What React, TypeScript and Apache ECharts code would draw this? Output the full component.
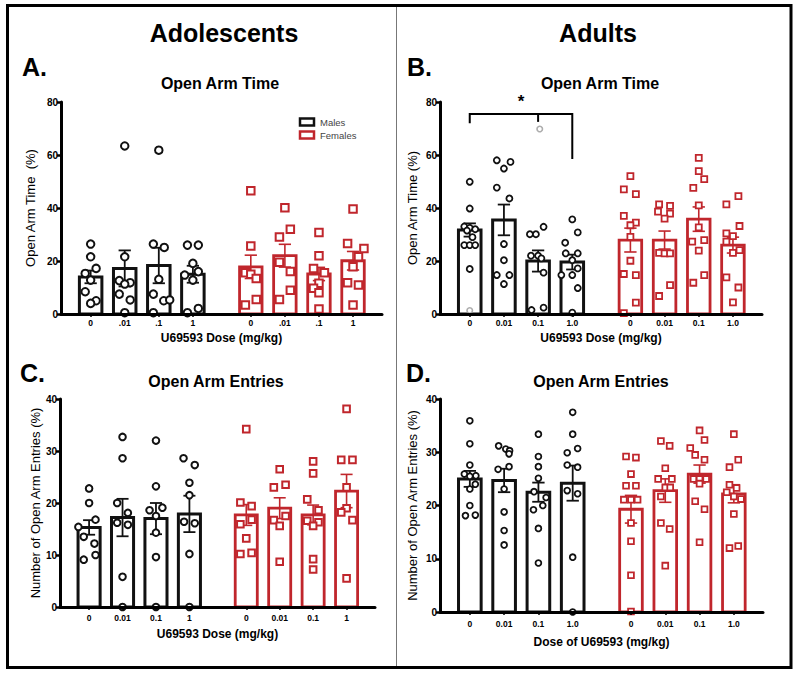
import React, { useEffect, useRef } from 'react';
import * as echarts from 'echarts';

// ---------- data ----------
const MALE_X = [0, 1, 2, 3];
const FEMALE_X = [4.7, 5.7, 6.7, 7.7];
const JIT = 0.16;

const LABELS_A = ['0', '.01', '.1', '1'];
const LABELS_B = ['0', '0.01', '0.1', '1.0'];
const LABELS_C = ['0', '0.01', '0.1', '1'];
const LABELS_D = ['0', '0.01', '0.1', '1.0'];

// Panel A – adolescents, open arm time (%)
const A_M_MEAN = [14.0, 17.2, 18.3, 15.0];
const A_M_SEM = [2.4, 6.8, 6.7, 3.2];
const A_F_MEAN = [17.8, 22.0, 15.1, 20.1];
const A_F_SEM = [4.4, 4.3, 2.5, 3.5];
const A_M_VALS = [
  [26.4, 21.6, 17.2, 15.3, 12.8, 8.4, 5.0, 4.0],
  [63.4, 21.6, 12.6, 11.8, 11.3, 7.5, 5.3, 0.5],
  [61.8, 26.4, 25.1, 13.1, 7.5, 5.0, 5.3, 0.5],
  [26.0, 26.0, 19.1, 16.0, 14.7, 12.8, 2.1, 0.5],
];
const A_M_JIT = [
  [0, 0, 1, -1, 0, -1, 1, 0],
  [0, 0, -1, 1, 0, -1, 1, 0],
  [0, -1, 1, 0, -1, 0.9, 2, -1],
  [-1, 1, 0, 1, -1.5, 0, 1, -1],
];
const A_F_VALS = [
  [46.5, 25.7, 15.6, 15.0, 13.4, 5.5, 3.4],
  [40.1, 32.0, 29.1, 19.5, 16.0, 9.0, 5.5],
  [30.8, 22.0, 17.2, 15.6, 11.6, 9.7, 8.0, 1.9],
  [39.6, 26.6, 24.7, 21.6, 17.8, 11.8, 10.9, 3.4],
];
const A_F_JIT = [
  [0, 0, -1, 0, 1, 1, -1],
  [0, 1, -1, -1, 1, 1, -1],
  [0, 0, -1, 1, 0, -1, 0, 0],
  [0, -1, 2, 1, 0, -1, 1, 0],
];

// Panel B – adults, open arm time (%)
const B_M_MEAN = [31.7, 35.5, 20.0, 19.6];
const B_M_SEM = [2.5, 5.8, 4.0, 2.8];
const B_F_MEAN = [27.9, 27.9, 35.8, 26.0];
const B_F_SEM = [4.5, 3.4, 4.6, 3.0];
const B_M_VALS = [
  [49.9, 39.8, 33.0, 32.5, 32.0, 31.5, 29.0, 26.0, 26.0, 26.0, 17.0],
  [58.0, 57.4, 54.9, 47.7, 43.6, 26.4, 20.3, 14.7, 14.7, 11.3],
  [32.9, 30.1, 30.1, 22.0, 22.0, 21.0, 15.6, 2.4, 1.5],
  [35.7, 30.8, 26.9, 22.9, 22.9, 20.3, 17.2, 14.7, 14.7, 9.8, 0.5],
];
const B_M_JIT = [
  [0, 0, -1, 0, 1, -0.5, 0.5, -1, 0, 1, 0],
  [-1.3, 1.2, 0, -1.3, 1, 0, 0, -1.3, 1, 0],
  [1, -1.5, -0.4, -1.3, 0, 0.6, 1, 1, -1.2],
  [0, 1, -1.3, -1.2, 1, 0, 1, -2, 0, 1, 0],
];
const B_F_VALS = [
  [52.0, 47.0, 45.2, 37.0, 34.5, 33.5, 29.1, 20.1, 15.1, 14.7, 4.3, 0.3],
  [41.4, 40.8, 38.6, 37.9, 36.0, 23.1, 22.9, 22.9, 10.9, 6.8],
  [58.9, 53.9, 50.9, 47.6, 41.0, 32.7, 27.9, 27.3, 23.9, 14.7, 11.8],
  [44.5, 41.4, 33.2, 30.4, 29.4, 27.3, 24.1, 23.1, 13.8, 10.0, 4.4],
];
const B_F_JIT = [
  [0, -1.2, 1, -1.2, 1, 0, 0, 0, -1.2, 1, 1, -1.2],
  [-1, 1, -1.2, 1, 0, -1, 0, 1, 1, -1],
  [0, 0, 1, -1, 0, 0, 1, -1.2, 0, 1, -1],
  [1, -1.2, 1.2, -1.2, 0, -1.2, 1.2, 0, -1.2, 1, 0],
];
// excluded (grey) points in B
const B_GRAY_DOSE = [0, 2];
const B_GRAY_JIT = [0, 0.3];
const B_GRAY_VALS = [1.3, 69.8];
// significance bracket in B: x = dose positions (left, middle, right)
const BRACKET_X = [0, 2, 3];
const BRACKET_Y = [75.5, 72.0, 72.5, 58.5]; // top line, left leg end, middle tick end, right leg end

// Panel C – adolescents, open arm entries (%)
const C_M_MEAN = [15.3, 17.2, 17.0, 17.9];
const C_M_SEM = [1.4, 3.6, 3.0, 3.5];
const C_F_MEAN = [17.7, 19.0, 17.7, 22.3];
const C_F_SEM = [2.0, 2.0, 1.9, 3.2];
const C_M_VALS = [
  [22.8, 20.0, 16.8, 15.4, 13.5, 12.2, 10.0, 9.1],
  [32.7, 28.6, 20.0, 18.1, 16.2, 15.8, 5.8, 0],
  [32.0, 23.2, 19.1, 18.6, 17.5, 14.3, 9.6, 0],
  [28.6, 27.3, 23.9, 21.5, 16.4, 16.1, 10.2, 0],
];
const C_M_JIT = [
  [0, 0, 1.2, -2, -1, 1, 1.2, -1],
  [0, 0, -1, 1, -1, 1, 0, 0],
  [0, 0, 1.2, -1.2, 0, 0, 0, 0],
  [-1.1, 1, 0, 0, -1, 1, 0, 0],
];
const C_F_VALS = [
  [34.2, 20.1, 19.4, 16.8, 15.9, 13.2, 10.4, 10.2],
  [26.5, 23.5, 23.0, 17.5, 16.7, 15.6, 8.7],
  [28.0, 25.7, 20.7, 18.6, 16.6, 16.3, 15.6, 9.2, 7.2],
  [38.1, 28.3, 28.3, 23.0, 19.0, 18.2, 16.7, 5.5],
];
const C_F_JIT = [
  [0, -1.1, 1, 1, -1.1, 0, 1, -1.1],
  [0, 1.1, -1.1, 1.1, -1.1, 0, 0],
  [0, 0, -1.1, 1, -1.1, 1, 0, 0, 0],
  [0, -1, 1.1, 0, 0, -1, 1.1, 0],
];

// Panel D – adults, open arm entries (%)
const D_M_MEAN = [25.0, 24.7, 22.5, 24.2];
const D_M_SEM = [1.5, 2.2, 1.8, 3.3];
const D_F_MEAN = [19.3, 22.8, 25.9, 22.2];
const D_F_SEM = [2.6, 2.2, 1.7, 1.7];
const D_M_VALS = [
  [35.9, 31.6, 27.6, 25.9, 25.6, 25.5, 24.0, 23.1, 20.0, 18.2, 18.1],
  [31.2, 30.6, 30.3, 29.7, 27.3, 26.8, 23.1, 18.8, 15.3, 12.6],
  [33.4, 29.2, 27.3, 25.1, 22.6, 21.5, 20.0, 19.2, 15.7, 9.2],
  [37.5, 33.4, 30.7, 29.9, 27.6, 27.2, 22.8, 22.2, 10.3, 0],
];
const D_M_JIT = [
  [0, 0, 0, -1, 1.1, 0, 1, 0, 0, 1, -0.8],
  [-1, 0.3, 1, 0.9, 0.9, -1.1, 0, 0, 0, 0],
  [0, 0, 0, 0, -0.8, 1.4, 0.8, -0.9, 0, 0],
  [0, 0, 0.9, -1, -1, 0.9, -1, 0.9, 0, 0],
];
const D_F_VALS = [
  [29.2, 29.0, 25.9, 23.7, 23.7, 21.1, 21.1, 21.1, 16.7, 13.3, 6.9, 0.1],
  [32.1, 31.2, 27.0, 25.0, 25.0, 23.4, 23.4, 21.7, 16.7, 15.6, 8.7],
  [34.1, 32.3, 30.8, 29.5, 28.6, 25.0, 25.0, 25.0, 24.1, 20.8, 19.3, 13.1],
  [33.4, 28.6, 27.2, 23.9, 23.3, 22.5, 21.7, 21.2, 18.4, 12.4, 12.0],
];
const D_F_JIT = [
  [-0.9, 0.9, 0, -0.9, 0.9, -1.3, 0, 1.2, 0, 0, 0, 0],
  [-0.8, 0.8, 0, -1.3, 1.2, 0, 0.9, -0.8, -0.8, 0.8, 0],
  [0, 0.9, -1.7, -0.8, 0.9, -1.1, 0, 1.2, 0, -0.8, 0.9, 0],
  [0, 0.8, -0.8, -0.8, 0.5, -1.3, 0, 1.3, 0, 0.8, -0.8],
];

// ---------- styling ----------
const FONT = "'Liberation Sans', Arial, Helvetica, sans-serif";
const BLACK = '#111111';
const RED = '#c0262c';

const PANELS = [
  {
    grid: { left: 61, top: 102, width: 321, height: 212 },
    yMax: 80, yInt: 20, yName: 'Open Arm Time  (%)', yGap: 24,
    xName: 'U69593 Dose (mg/kg)', xGap: 18, xMargin: 4,
    labels: LABELS_A, mMean: A_M_MEAN, mSem: A_M_SEM, fMean: A_F_MEAN, fSem: A_F_SEM,
    mVals: A_M_VALS, mJit: A_M_JIT, fVals: A_F_VALS, fJit: A_F_JIT, sym: 7.5, bw: 2,
  },
  {
    grid: { left: 440, top: 102, width: 322, height: 212 },
    yMax: 80, yInt: 20, yName: 'Open Arm Time (%)', yGap: 21,
    xName: 'U69593 Dose (mg/kg)', xGap: 18, xMargin: 4,
    labels: LABELS_B, mMean: B_M_MEAN, mSem: B_M_SEM, fMean: B_F_MEAN, fSem: B_F_SEM,
    mVals: B_M_VALS, mJit: B_M_JIT, fVals: B_F_VALS, fJit: B_F_JIT, sym: 6, bw: 1.8,
  },
  {
    grid: { left: 60, top: 399, width: 315, height: 208 },
    yMax: 40, yInt: 10, yName: 'Number of Open Arm Entries (%)', yGap: 18,
    xName: 'U69593 Dose (mg/kg)', xGap: 21, xMargin: 6,
    labels: LABELS_C, mMean: C_M_MEAN, mSem: C_M_SEM, fMean: C_F_MEAN, fSem: C_F_SEM,
    mVals: C_M_VALS, mJit: C_M_JIT, fVals: C_F_VALS, fJit: C_F_JIT, sym: 6.6, bw: 2,
  },
  {
    grid: { left: 440, top: 399, width: 323, height: 213 },
    yMax: 40, yInt: 10, yName: 'Number of Open Arm Entries (%)', yGap: 21,
    xName: 'Dose of U69593 (mg/kg)', xGap: 24, xMargin: 7,
    labels: LABELS_D, mMean: D_M_MEAN, mSem: D_M_SEM, fMean: D_F_MEAN, fSem: D_F_SEM,
    mVals: D_M_VALS, mJit: D_M_JIT, fVals: D_F_VALS, fJit: D_F_JIT, sym: 5.8, bw: 1.8,
  },
];

const TICK_X = [...MALE_X, ...FEMALE_X];

function points(xs: number[], vals: number[][], jit: number[][]) {
  const out: number[][] = [];
  vals.forEach((arr, k) => arr.forEach((v, n) => out.push([xs[k] + jit[k][n] * JIT, v])));
  return out;
}

function barRender(color: string, lw: number, elw: number) {
  return (params: any, api: any) => {
    const x = api.value(0);
    const m = api.value(1);
    const s = api.value(2);
    const top = api.coord([x, m]);
    const base = api.coord([x, 0]);
    const lo = api.coord([x, m - s]);
    const hi = api.coord([x, m + s]);
    const slot = api.size([1, 0])[0];
    const w = slot * 0.66;
    const cap = slot * 0.36;
    const ls = { stroke: color, lineWidth: elw, fill: null };
    return {
      type: 'group',
      children: [
        { type: 'rect', shape: { x: top[0] - w / 2, y: top[1], width: w, height: base[1] - top[1] }, style: { fill: '#ffffff', stroke: color, lineWidth: lw } },
        { type: 'line', shape: { x1: top[0], y1: lo[1], x2: top[0], y2: hi[1] }, style: ls },
        { type: 'line', shape: { x1: top[0] - cap / 2, y1: hi[1], x2: top[0] + cap / 2, y2: hi[1] }, style: ls },
        { type: 'line', shape: { x1: top[0] - cap / 2, y1: lo[1], x2: top[0] + cap / 2, y2: lo[1] }, style: ls },
      ],
    };
  };
}

function txt(text: string, x: number, y: number, size: number, weight: string, align = 'center', fill = '#000', family = FONT) {
  return {
    type: 'text', x, y, silent: true,
    style: { text, fill, fontSize: size, fontWeight: weight, fontFamily: family, align, verticalAlign: 'middle', textAlign: align, textVerticalAlign: 'middle' },
  };
}

export default function App() {
  const ref = useRef<HTMLDivElement>(null);
  useEffect(() => {
    if (!ref.current) return;
    const chart = echarts.init(ref.current, undefined, { renderer: 'svg' });

    const grids: any[] = [];
    const xAxes: any[] = [];
    const yAxes: any[] = [];
    const series: any[] = [];

    PANELS.forEach((p, i) => {
      grids.push({ ...p.grid, containLabel: false });
      xAxes.push({
        gridIndex: i, type: 'value', min: -0.87, max: 8.55, z: 5,
        axisLine: { show: true, onZero: false, lineStyle: { color: '#000', width: 3 } },
        splitLine: { show: false },
        axisTick: { show: true, customValues: TICK_X, length: 3, lineStyle: { color: '#000', width: 1.5 } },
        axisLabel: {
          customValues: TICK_X, margin: p.xMargin, fontSize: 8.5, fontWeight: 'bold', color: '#000', fontFamily: FONT,
          formatter: (v: number) => {
            const k = TICK_X.findIndex((t) => Math.abs(t - v) < 1e-6);
            return k < 0 ? '' : p.labels[k % 4];
          },
        },
        name: p.xName, nameLocation: 'middle', nameGap: p.xGap, nameMoveOverlap: false,
        nameTextStyle: { fontSize: 12, fontWeight: 'bold', color: '#000', fontFamily: FONT, overflow: 'none', width: 400 },
      });
      yAxes.push({
        gridIndex: i, type: 'value', min: 0, max: p.yMax, interval: p.yInt, z: 5,
        axisLine: { show: true, onZero: false, lineStyle: { color: '#000', width: 3 } },
        axisTick: { show: true, length: 4, lineStyle: { color: '#000', width: 2.5 } },
        axisLabel: { margin: 3, fontSize: 10, fontWeight: 'bold', color: '#000', fontFamily: FONT },
        splitLine: { show: false },
        name: p.yName, nameLocation: 'middle', nameGap: p.yGap, nameMoveOverlap: false,
        nameTextStyle: { fontSize: 13, color: '#000', fontFamily: FONT, overflow: 'none', width: 400 },
      });
      series.push({
        type: 'custom', xAxisIndex: i, yAxisIndex: i, z: 2, silent: true, clip: false,
        renderItem: barRender(BLACK, 3, 1.8),
        data: MALE_X.map((x, k) => [x, p.mMean[k], p.mSem[k]]),
      });
      series.push({
        type: 'custom', xAxisIndex: i, yAxisIndex: i, z: 2, silent: true, clip: false,
        renderItem: barRender(RED, 2.8, 1.6),
        data: FEMALE_X.map((x, k) => [x, p.fMean[k], p.fSem[k]]),
      });
      series.push({
        type: 'scatter', xAxisIndex: i, yAxisIndex: i, z: 4, silent: true, clip: false,
        symbol: 'circle', symbolSize: p.sym,
        itemStyle: { color: '#ffffff', borderColor: BLACK, borderWidth: p.bw, opacity: 1 },
        data: points(MALE_X, p.mVals, p.mJit),
      });
      series.push({
        type: 'scatter', xAxisIndex: i, yAxisIndex: i, z: 4, silent: true, clip: false,
        symbol: 'rect', symbolSize: p.sym,
        itemStyle: { color: '#ffffff', borderColor: RED, borderWidth: p.bw, opacity: 1 },
        data: points(FEMALE_X, p.fVals, p.fJit),
      });
    });

    // grey (excluded) points in B
    series.push({
      type: 'scatter', xAxisIndex: 1, yAxisIndex: 1, z: 4, silent: true, clip: false,
      symbol: 'circle', symbolSize: 5.5,
      itemStyle: { color: '#ffffff', borderColor: '#999999', borderWidth: 1.6 },
      data: B_GRAY_DOSE.map((d, k) => [MALE_X[d] + B_GRAY_JIT[k] * JIT, B_GRAY_VALS[k]]),
    });

    // significance bracket in B
    series.push({
      type: 'custom', xAxisIndex: 1, yAxisIndex: 1, z: 3, silent: true, clip: false,
      data: [[0]],
      renderItem: (params: any, api: any) => {
        const xl = MALE_X[BRACKET_X[0]];
        const xm = MALE_X[BRACKET_X[1]];
        const xr = MALE_X[BRACKET_X[2]];
        const tl = api.coord([xl, BRACKET_Y[0]]);
        const tr = api.coord([xr, BRACKET_Y[0]]);
        const bl = api.coord([xl, BRACKET_Y[1]]);
        const br = api.coord([xr, BRACKET_Y[3]]);
        const mt = api.coord([xm, BRACKET_Y[0]]);
        const mb = api.coord([xm, BRACKET_Y[2]]);
        const st = { stroke: '#000', lineWidth: 2, fill: null };
        return {
          type: 'group',
          children: [
            { type: 'polyline', shape: { points: [bl, tl, tr, br] }, style: st },
            { type: 'line', shape: { x1: mt[0], y1: mt[1], x2: mb[0], y2: mb[1] }, style: st },
            {
              type: 'text', x: (tl[0] + tr[0]) / 2, y: tl[1] - 12,
              style: { text: '*', fill: '#000', fontSize: 17, fontWeight: 'bold', fontFamily: FONT, align: 'center', verticalAlign: 'middle' },
            },
          ],
        };
      },
    });

    const graphic: any[] = [
      { type: 'rect', silent: true, shape: { x: 7.5, y: 5.5, width: 783.5, height: 662 }, style: { fill: null, stroke: '#000', lineWidth: 3 } },
      { type: 'line', silent: true, shape: { x1: 396.5, y1: 7, x2: 396.5, y2: 666 }, style: { stroke: '#777', lineWidth: 1 } },
      txt('Adolescents', 224, 33, 25, 'bold'),
      txt('Adults', 598, 33, 25, 'bold'),
      txt('A.', 22, 67, 25, 'bold', 'left'),
      txt('B.', 407, 67, 25, 'bold', 'left'),
      txt('C.', 20, 373, 25, 'bold', 'left'),
      txt('D.', 406, 373, 25, 'bold', 'left'),
      txt('Open Arm Time', 220, 83, 16, 'bold'),
      txt('Open Arm Time', 600, 83, 16, 'bold'),
      txt('Open Arm Entries', 216, 381, 16, 'bold'),
      txt('Open Arm Entries', 601, 381, 16, 'bold'),
      { type: 'rect', silent: true, shape: { x: 300, y: 118.5, width: 14, height: 7 }, style: { fill: '#fff', stroke: BLACK, lineWidth: 2.5 } },
      { type: 'rect', silent: true, shape: { x: 300, y: 131.5, width: 14, height: 7 }, style: { fill: '#fff', stroke: RED, lineWidth: 2.5 } },
      txt('Males', 320, 122, 9.5, 'normal', 'left', '#444'),
      txt('Females', 320, 135.5, 9.5, 'normal', 'left', '#444'),
    ];

    chart.setOption({
      animation: false,
      backgroundColor: '#ffffff',
      textStyle: { fontFamily: FONT },
      grid: grids,
      xAxis: xAxes,
      yAxis: yAxes,
      series,
      graphic,
    });
    return () => chart.dispose();
  }, []);
  return <div ref={ref} style={{ position: 'absolute', left: 0, top: 0, width: 800, height: 674, background: '#fff' }} />;
}
